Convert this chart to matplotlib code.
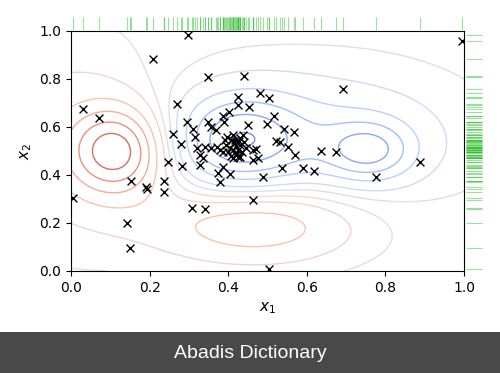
import numpy as np
import matplotlib
matplotlib.use("Agg")
import matplotlib.pyplot as plt

# ---- scatter data (x1, x2) ----
x1 = [0.298, 0.995, 0.209, 0.031, 0.071, 0.270, 0.295, 0.260, 0.280, 0.310,
      0.316, 0.349, 0.440, 0.425, 0.481, 0.504, 0.425, 0.453, 0.402, 0.387,
      0.517, 0.349, 0.389, 0.499, 0.356, 0.369, 0.397, 0.412, 0.430, 0.438,
      0.450, 0.542, 0.567, 0.532, 0.522, 0.552, 0.570, 0.321, 0.341, 0.356,
      0.372, 0.379, 0.328, 0.336, 0.387, 0.399, 0.422, 0.425, 0.412, 0.463,
      0.476, 0.471, 0.328, 0.387, 0.374, 0.405, 0.379, 0.537, 0.489, 0.590,
      0.618, 0.463, 0.692, 0.636, 0.674, 0.776, 0.888, 0.005, 0.153, 0.191,
      0.193, 0.237, 0.237, 0.247, 0.282, 0.142, 0.150, 0.308, 0.341, 0.504,
      0.410, 0.415, 0.420, 0.405, 0.412, 0.425, 0.430, 0.394, 0.420, 0.435,
      0.407, 0.417, 0.427, 0.440, 0.445, 0.392, 0.430, 0.463]
x2 = [0.983, 0.958, 0.883, 0.675, 0.638, 0.696, 0.621, 0.571, 0.529, 0.592,
      0.558, 0.808, 0.813, 0.725, 0.742, 0.721, 0.692, 0.683, 0.663, 0.646,
      0.646, 0.621, 0.621, 0.613, 0.600, 0.588, 0.558, 0.567, 0.554, 0.567,
      0.608, 0.592, 0.579, 0.538, 0.542, 0.517, 0.483, 0.513, 0.517, 0.513,
      0.517, 0.504, 0.483, 0.471, 0.496, 0.496, 0.492, 0.475, 0.471, 0.463,
      0.471, 0.508, 0.442, 0.433, 0.408, 0.404, 0.371, 0.429, 0.392, 0.429,
      0.417, 0.296, 0.758, 0.500, 0.496, 0.392, 0.454, 0.304, 0.375, 0.350,
      0.342, 0.375, 0.329, 0.454, 0.438, 0.200, 0.096, 0.263, 0.258, 0.008,
      0.546, 0.533, 0.521, 0.513, 0.504, 0.504, 0.525, 0.525, 0.483, 0.496,
      0.479, 0.546, 0.542, 0.538, 0.513, 0.546, 0.475, 0.504]

# ---- contour field: Gaussian bumps (cx, cy, sx, sy, amplitude) ----
bump_cx = [0.12, 0.00, 0.42, 0.62, 0.76, 0.47]
bump_cy = [0.50, 0.55, 0.54, 0.56, 0.50, 0.20]
bump_sx = [0.09, 0.16, 0.12, 0.26, 0.08, 0.19]
bump_sy = [0.13, 0.30, 0.14, 0.20, 0.09, 0.12]
bump_amp = [0.75, 0.22, -0.55, -0.30, -0.45, 0.45]
levels = [-0.75, -0.6, -0.45, -0.3, -0.15, -0.05, 0.05, 0.15, 0.3, 0.45, 0.6, 0.75]

fig = plt.figure(figsize=(5.0, 3.73), dpi=100)
ax = fig.add_axes([71/500, 1-271/373, 393/500, 240/373])

gx = np.linspace(0, 1, 300)
gy = np.linspace(0, 1, 300)
X, Y = np.meshgrid(gx, gy)
Z = np.zeros_like(X)
for cx, cy, sx, sy, a in zip(bump_cx, bump_cy, bump_sx, bump_sy, bump_amp):
    Z += a * np.exp(-0.5 * (((X - cx) / sx) ** 2 + ((Y - cy) / sy) ** 2))

ax.contour(X, Y, Z, levels=levels, cmap="coolwarm", vmin=-0.95, vmax=0.95,
           linewidths=1.0, alpha=0.85)
ax.scatter(x1, x2, marker="x", color="black", s=32, linewidths=1.0, zorder=3)

# rug plots
ax.vlines(x1, 1.005, 1.06, transform=ax.get_xaxis_transform(), color="#22bb22",
          alpha=0.45, linewidth=0.8, clip_on=False)
ax.hlines(x2, 1.005, 1.045, transform=ax.get_yaxis_transform(), color="#22bb22",
          alpha=0.45, linewidth=0.8, clip_on=False)

ax.set_xlim(0, 1)
ax.set_ylim(0, 1)
ax.set_xticks([0, 0.2, 0.4, 0.6, 0.8, 1.0])
ax.set_yticks([0, 0.2, 0.4, 0.6, 0.8, 1.0])
ax.tick_params(labelsize=10)
ax.set_xlabel("$x_1$", fontsize=11)
ax.set_ylabel("$x_2$", fontsize=11)

# footer band
fig.patches.append(plt.Rectangle((0, 0), 1, 41/373, transform=fig.transFigure,
                                 facecolor="#4a4949", edgecolor="none"))
fig.text(0.5, 20/373, "Abadis Dictionary", color="white", ha="center", va="center",
         fontsize=14, family="Liberation Sans")

fig.savefig("out.png", dpi=100)
